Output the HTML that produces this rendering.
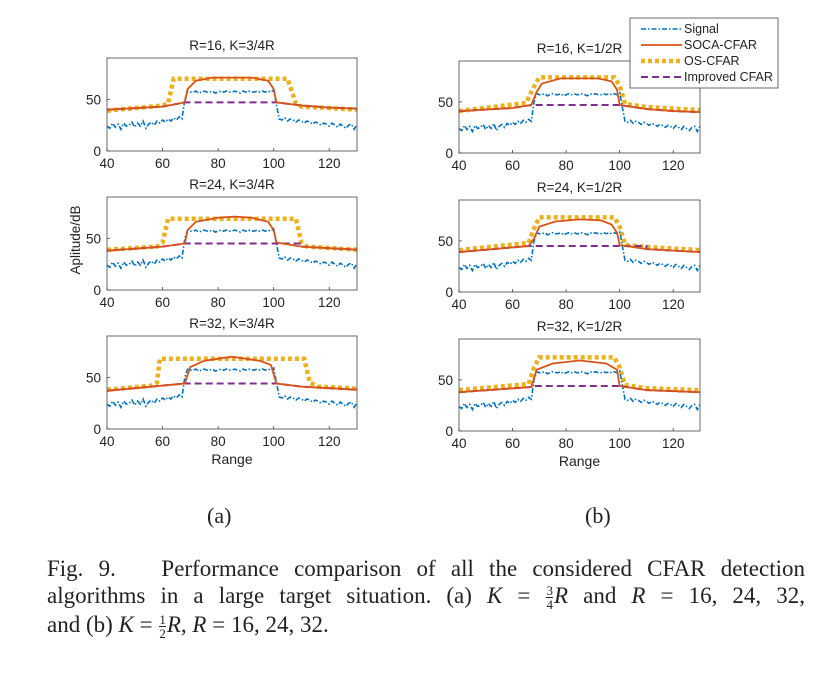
<!DOCTYPE html>
<html><head><meta charset="utf-8">
<style>
body{margin:0;background:#fff;width:830px;height:675px;overflow:hidden;font-family:"Liberation Sans",sans-serif}
svg{position:absolute;left:0;top:0}
.cap{position:absolute;font-family:"Liberation Serif",serif;font-size:22px;color:#222}
.ln{position:absolute;left:47px;width:758px;font-family:"Liberation Serif",serif;font-size:23px;color:#222;text-align:justify;text-align-last:justify;white-space:nowrap}
.fr{display:inline-block;vertical-align:middle;text-align:center;font-size:13px;line-height:13px;margin:0 1px}
.fr span{display:block}
.fr span:first-child{border-bottom:1px solid #222}
</style></head><body>
<svg id="fig" width="830" height="675"></svg>
<div class="cap" style="left:207px;top:503px">(a)</div>
<div class="cap" style="left:585px;top:503px">(b)</div>
<div>
<div class="ln" style="top:556px;white-space:normal">Fig. 9.&nbsp;&nbsp; Performance comparison of all the considered CFAR detection</div>
<div class="ln" style="top:583px;white-space:normal">algorithms in a large target situation. (a) <i>K</i> = <span class="fr"><span>3</span><span>4</span></span><i>R</i> and <i>R</i> = 16, 24, 32,</div>
<div class="ln" style="top:612px;text-align:left;text-align-last:left">and (b) <i>K</i> = <span class="fr"><span>1</span><span>2</span></span><i>R</i>, <i>R</i> = 16, 24, 32.</div>
</div>
<script>
const signalStart = 40;
const signalValues = [24,22,27,23,26,21,27,24,25,28,23,27,24,29,22,26,28,25,29,27,30,28,31,29,32,30,33,31,
50,
58,57,57,58,56,57,58,57,57,58,56,57,58,57,58,57,57,58,57,56,58,57,58,57,57,58,57,58,57,58,57,59,
45,
31,30,32,29,31,30,28,30,29,27,29,28,26,28,27,25,27,26,24,27,25,23,26,24,22,25,26,21,26];
const panelTitles = ["R=16, K=3/4R","R=24, K=3/4R","R=32, K=3/4R","R=16, K=1/2R","R=24, K=1/2R","R=32, K=1/2R"];
const xTicks = [40,60,80,100,120];
const yTicks = [0,50];
const socaData = [
 [[40,40],[60,43],[68,47],[69,60],[72,68],[78,71],[92,71],[98,68],[100,60],[101,47],[110,44],[120,42],[130,41]],
 [[40,38],[60,42],[68,45],[69,58],[72,66],[80,70],[86,71],[92,70],[98,66],[100,58],[101,46],[110,42],[130,39]],
 [[40,37],[68,44],[70,60],[75,66],[85,70],[95,66],[99,62],[101,44],[110,41],[130,38]],
 [[40,41],[60,44],[67,47],[69,60],[71,68],[78,73],[92,73],[97,70],[99,62],[100,47],[110,43],[120,41],[130,40]],
 [[40,39],[66,45],[68,52],[70,64],[76,69],[85,71],[93,70],[97,66],[99,58],[100,46],[110,42],[130,39]],
 [[40,38],[67,43],[69,60],[75,66],[85,69],[95,66],[99,60],[100,44],[110,40],[130,38]]];
const osData = [
 [[40,39],[60,44],[62,46],[64,70],[105,70],[108,46],[110,43],[130,40]],
 [[40,39],[58,42],[60,46],[62,69],[108,69],[110,46],[112,42],[130,39]],
 [[40,38],[56,42],[58,45],[59,68],[111,68],[113,45],[116,41],[130,39]],
 [[40,41],[65,49],[68,65],[70,74],[98,74],[100,66],[102,48],[110,45],[130,42]],
 [[40,41],[66,48],[68,62],[70,73],[98,73],[100,64],[102,46],[110,44],[130,41]],
 [[40,40],[66,46],[68,62],[70,72],[98,72],[100,62],[102,45],[110,42],[130,40]]];
const improvedLevels = [47,45,44,47,45,44];

const NS="http://www.w3.org/2000/svg";
const svg=document.getElementById('fig');
function mk(tag,attrs,parent){const e=document.createElementNS(NS,tag);for(const k in attrs)e.setAttribute(k,attrs[k]);(parent||svg).appendChild(e);return e;}
const boxes=[[107,357,58,151],[107,357,197,290],[107,357,336,429],[459,700,61,153],[459,700,200,292],[459,700,339,431]];
boxes.forEach((b,i)=>{
  const [x0,x1,y0,y1]=b;
  const xs=v=>x0+(v-40)/90*(x1-x0);
  const ys=v=>y1-v/90*(y1-y0);
  const g=mk('g',{});
  
  
  const cp='cp'+i;
  const c=mk('clipPath',{id:cp},g);mk('rect',{x:x0,y:y0,width:x1-x0,height:y1-y0},c);
  const t=mk('text',{x:(x0+x1)/2,y:y0-8,'text-anchor':'middle','font-size':'13.5',fill:'#222'},g);t.textContent=panelTitles[i];
  
  
  xTicks.forEach(v=>{mk('line',{x1:xs(v),x2:xs(v),y1:y1,y2:y1-3,stroke:'#444','stroke-width':0.8},g);
    const tt=mk('text',{x:xs(v),y:y1+17,'text-anchor':'middle','font-size':'13.5',fill:'#222'},g);tt.textContent=v;
    
    });
  yTicks.forEach(v=>{mk('line',{x1:x0,x2:x0+3,y1:ys(v),y2:ys(v),stroke:'#444','stroke-width':0.8},g);
    const tt=mk('text',{x:x0-6,y:ys(v)+5,'text-anchor':'end','font-size':'13.5',fill:'#222'},g);tt.textContent=v;
    
    });
  const pl=g2=>g2.map(p=>xs(p[0]).toFixed(1)+','+ys(p[1]).toFixed(1)).join(' ');
  const lg=mk('g',{'clip-path':'url(#'+cp+')'},g);
  const os=mk('polyline',{points:pl(osData[i]),fill:'none',stroke:'#EDB120','stroke-width':4.5,'stroke-dasharray':'4 3'},lg);
  
  
  const sig=mk('polyline',{points:pl(signalValues.map((v,k)=>[signalStart+k,v])),fill:'none',stroke:'#0072BD','stroke-width':1.6,'stroke-dasharray':'5 2 1.5 2'},lg);
  
  
  const socaPts=socaData[i];
  const lev=improvedLevels[i];
  const impPts=socaPts.filter(p=>p[1]<=lev+0.5 && (p[0]<69||p[0]>99));
  const left=impPts.filter(p=>p[0]<80), right=impPts.filter(p=>p[0]>80);
  const imp=[...left,[left[left.length-1][0],lev],[right[0][0],lev],...right];
  const im=mk('polyline',{points:pl(imp),fill:'none',stroke:'#7E2F8E','stroke-width':2,'stroke-dasharray':'7 4'},lg);
  
  
  const so=mk('polyline',{points:pl(socaPts),fill:'none',stroke:'#D95319','stroke-width':1.8},lg);
  
  
  mk('rect',{x:x0,y:y0,width:x1-x0,height:y1-y0,fill:'none',stroke:'#444','stroke-width':0.8},g);
  if(i===2||i===5){const r=mk('text',{x:(x0+x1)/2,y:y1+35,'text-anchor':'middle','font-size':'14',fill:'#222'},g);r.textContent='Range';
    
    }
});
const yl=mk('text',{x:0,y:0,transform:'translate(80,240) rotate(-90)','text-anchor':'middle','font-size':'13.5',fill:'#222'});
yl.textContent='Aplitude/dB';


const leg=mk('g',{});


mk('rect',{x:630,y:18,width:148,height:70,fill:'#fff',stroke:'#444','stroke-width':0.8},leg);
const legNames=['Signal','SOCA-CFAR','OS-CFAR','Improved CFAR'];
const legStyles=[['#0072BD',1.6,'5 2 1.5 2'],['#D95319',1.8,'none'],['#EDB120',4.5,'4 3'],['#7E2F8E',2,'7 4']];
legNames.forEach((n,k)=>{const y=29+k*16;
  mk('line',{x1:641,x2:682,y1:y,y2:y,stroke:legStyles[k][0],'stroke-width':legStyles[k][1],'stroke-dasharray':legStyles[k][2]},leg);
  const t=mk('text',{x:684,y:y+4,'font-size':'12.5',fill:'#222'},leg);t.textContent=n;
  
  });
</script>
</body></html>
